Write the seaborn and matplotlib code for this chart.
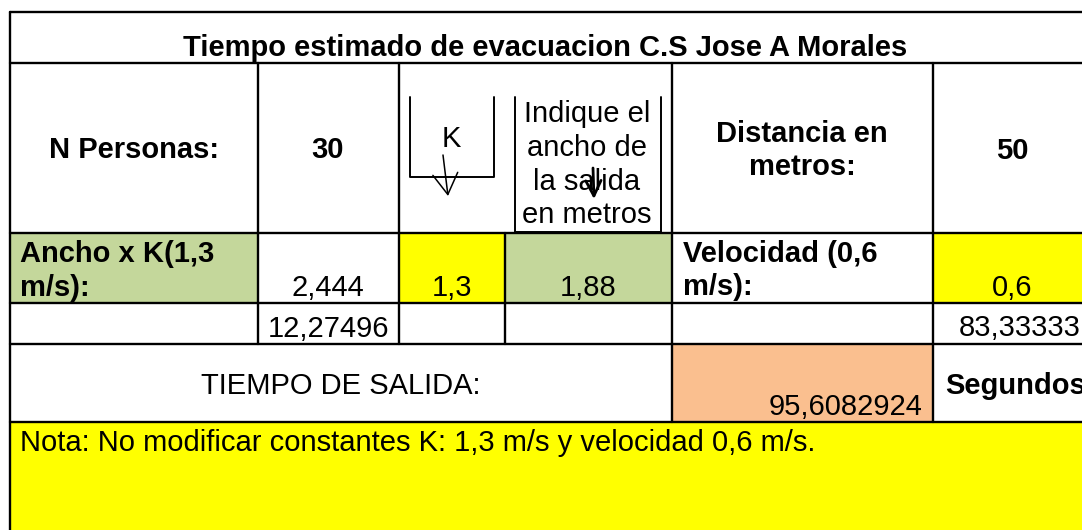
import matplotlib
matplotlib.use("Agg")
import matplotlib.pyplot as plt
import seaborn as sns
from matplotlib.patches import Rectangle, FancyArrowPatch

sns.set_theme(style="white")
plt.rcParams['font.family'] = ['Liberation Sans', 'DejaVu Sans']

# datos de la hoja
titulo = "Tiempo estimado de evacuacion C.S Jose A Morales"
n_personas = 30
distancia = 50
k_const = 1.3
ancho_salida = 1.88
ancho_x_k = 2.444
velocidad = 0.6
t_puerta = 12.27496
t_recorrido = 83.33333
t_salida = 95.6082924
nota = "Nota: No modificar constantes K: 1,3 m/s y velocidad 0,6 m/s."
lbl_personas = "N Personas:"
lbl_k = "K"
lbl_ancho = "Indique el\nancho de\nla salida\nen metros"
lbl_distancia = "Distancia en\nmetros:"
lbl_ancho_k = "Ancho x K(1,3\nm/s):"
lbl_velocidad = "Velocidad (0,6\nm/s):"
lbl_tiempo = "TIEMPO DE SALIDA:"
lbl_segundos = "Segundos"


def fmt(v):
    return str(v).replace('.', ',')


# rejilla (pixeles)
W, H = 1082, 530
cx = [10, 258, 399, 505, 672, 933, 1092]
ry = [12, 63, 233, 303, 344, 422, 530]
verde = "#C4D79B"
amarillo = "#FFFF00"
naranja = "#FABF8F"
FS = 21
LW = 1.7

fig = plt.figure(figsize=(W / 100, H / 100), dpi=100)
ax = fig.add_axes([0, 0, 1, 1])
ax.set_xlim(0, W)
ax.set_ylim(H, 0)
ax.axis('off')


def cell(c0, c1, r, color):
    ax.add_patch(Rectangle((cx[c0], ry[r]), cx[c1] - cx[c0], ry[r + 1] - ry[r],
                           facecolor=color, edgecolor='none', zorder=1))


cell(0, 1, 2, verde)
cell(2, 3, 2, amarillo)
cell(3, 4, 2, verde)
cell(5, 6, 2, amarillo)
cell(4, 5, 4, naranja)
cell(0, 6, 5, amarillo)

# lineas horizontales
for y in ry[:-1]:
    ax.plot([cx[0], W + 5], [y, y], color='black', lw=LW, zorder=3)
ax.plot([cx[0], cx[0]], [ry[0], H + 5], color='black', lw=LW, zorder=3)
# lineas verticales por fila
verticales = {1: [1, 2, 4, 5], 2: [1, 2, 3, 4, 5], 3: [1, 2, 3, 4, 5], 4: [4, 5]}
for r, cols in verticales.items():
    for c in cols:
        ax.plot([cx[c], cx[c]], [ry[r], ry[r + 1]], color='black', lw=LW, zorder=3)

# cajas dibujadas en la cabecera
ax.plot([410, 410, 494, 494], [97, 177, 177, 97], color='black', lw=1.4, zorder=3)
ax.plot([515, 515, 661, 661], [97, 232, 232, 97], color='black', lw=1.4, zorder=3)
ax.add_patch(FancyArrowPatch((443, 155), (448, 196), arrowstyle='->,head_length=0.5,head_width=0.3',
                             mutation_scale=30, color='black', lw=1.1, zorder=4,
                             shrinkA=0, shrinkB=0))
ax.add_patch(FancyArrowPatch((593, 168), (594, 199), arrowstyle='->,head_length=0.5,head_width=0.25',
                             mutation_scale=22, color='black', lw=2.0, zorder=4,
                             shrinkA=0, shrinkB=0))


def txt(x, y, s, ha='center', bold=False, ls=1.25):
    # y = linea base de la ultima linea
    ax.text(x, y, s, ha=ha, va='baseline', fontsize=FS, color='black',
            fontweight='bold' if bold else 'normal', linespacing=ls, zorder=5)


txt(545, 56, titulo, bold=True)
txt(134, 158, lbl_personas, bold=True)
txt(328, 158, fmt(n_personas), bold=True)
txt(451, 147, lbl_k)
txt(587, 223, lbl_ancho)
txt(802, 175, lbl_distancia, bold=True)
txt(1012, 159, fmt(distancia), bold=True)

txt(20, 296, lbl_ancho_k, ha='left', bold=True)
txt(328, 296, fmt(ancho_x_k))
txt(452, 296, fmt(k_const))
txt(588, 296, fmt(ancho_salida))
txt(683, 295, lbl_velocidad, ha='left', bold=True)
txt(1012, 296, fmt(velocidad))

txt(328, 337, fmt(t_puerta))
txt(1081, 336, fmt(t_recorrido), ha='right')

txt(341, 394, lbl_tiempo)
txt(923, 415, fmt(t_salida), ha='right')
txt(945, 394, lbl_segundos, ha='left', bold=True)

txt(20, 451, nota, ha='left')

fig.savefig("out.png", dpi=100)
